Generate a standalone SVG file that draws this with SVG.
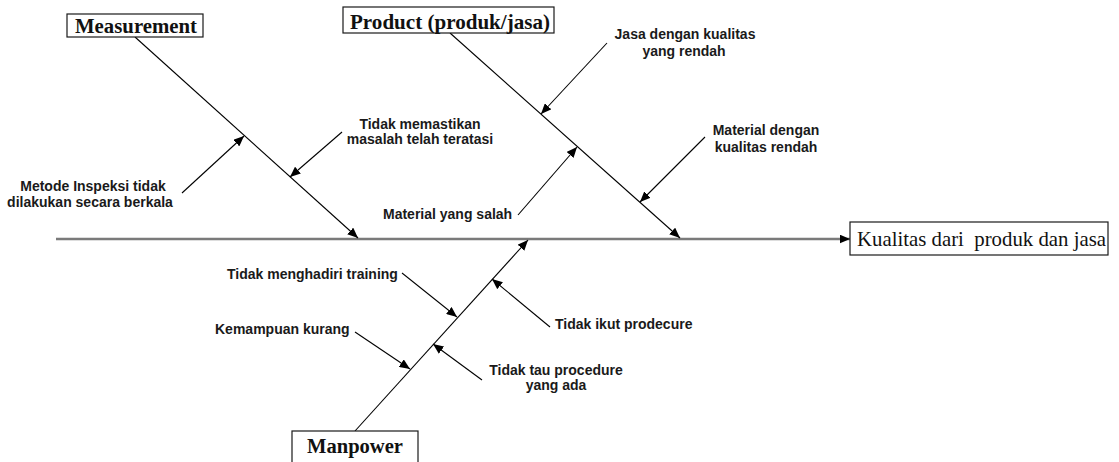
<svg xmlns="http://www.w3.org/2000/svg" width="1119" height="462" viewBox="0 0 1119 462">
  <style>
    .box { fill: #ffffff; stroke: #1a1a1a; stroke-width: 1.2; }
    .title { font-family: "Liberation Serif", "Times New Roman", serif; font-weight: bold; fill: #111; }
    .effect { font-family: "Liberation Serif", "Times New Roman", serif; font-size: 21px; fill: #111; white-space: pre; }
    .cause { font-family: "Liberation Sans", Arial, sans-serif; font-weight: bold; font-size: 14px; fill: #1a1a1a; }
    .bone { stroke: #000; stroke-width: 1.1; fill: none; marker-end: url(#head); }
    .spine { stroke: #7a7a7a; stroke-width: 2.4; fill: none; marker-end: url(#head); }
  </style>
  <defs>
    <marker id="head" markerUnits="userSpaceOnUse" markerWidth="11" markerHeight="9" refX="10.5" refY="4.5" orient="auto">
      <path d="M0,0 L10.5,4.5 L0,9 Z" fill="#000"/>
    </marker>
  </defs>
  <rect width="1119" height="462" fill="#ffffff"/>

  <!-- connectors: spine, category bones and cause arrows -->
  <g id="connectors">
    <line class="spine" x1="56" y1="239" x2="850" y2="239"/>
    <line class="bone" x1="135" y1="37" x2="358" y2="238"/>
    <line class="bone" x1="450" y1="33" x2="680" y2="238"/>
    <line class="bone" x1="355" y1="431" x2="528" y2="240"/>
    <line class="bone" x1="182" y1="193" x2="244" y2="136"/>
    <line class="bone" x1="342" y1="132" x2="290" y2="177"/>
    <line class="bone" x1="607" y1="43" x2="541" y2="114"/>
    <line class="bone" x1="705" y1="137" x2="640" y2="202"/>
    <line class="bone" x1="518" y1="215" x2="577" y2="147"/>
    <line class="bone" x1="402" y1="273" x2="457" y2="317"/>
    <line class="bone" x1="355" y1="332" x2="410" y2="369"/>
    <line class="bone" x1="550" y1="327" x2="492" y2="279"/>
    <line class="bone" x1="482" y1="380" x2="433" y2="344"/>
  </g>

  <!-- category boxes -->
  <g id="measurement">
    <rect class="box" x="67" y="14" width="136" height="23"/>
    <text class="title" x="75" y="33" font-size="20" textLength="122" lengthAdjust="spacingAndGlyphs">Measurement</text>
  </g>
  <g id="product">
    <rect class="box" x="343" y="7" width="211" height="26"/>
    <text class="title" x="350" y="29" font-size="21" textLength="200" lengthAdjust="spacingAndGlyphs">Product (produk/jasa)</text>
  </g>
  <g id="manpower">
    <rect class="box" x="292" y="431" width="126" height="40"/>
    <text class="title" x="307" y="453" font-size="20" textLength="96" lengthAdjust="spacingAndGlyphs">Manpower</text>
  </g>
  <g id="effect">
    <rect class="box" x="850" y="222" width="258" height="33"/>
    <text class="effect" x="857" y="246" textLength="249" lengthAdjust="spacingAndGlyphs">Kualitas dari  produk dan jasa</text>
  </g>

  <!-- causes -->
  <g id="cause-metode">
    <text class="cause" x="93" y="191" text-anchor="middle">Metode Inspeksi tidak</text>
    <text class="cause" x="90" y="207" text-anchor="middle">dilakukan secara berkala</text>
  </g>
  <g id="cause-memastikan">
    <text class="cause" x="420" y="129" text-anchor="middle">Tidak memastikan</text>
    <text class="cause" x="420" y="144" text-anchor="middle">masalah telah teratasi</text>
  </g>
  <g id="cause-jasa">
    <text class="cause" x="685" y="39" text-anchor="middle">Jasa dengan kualitas</text>
    <text class="cause" x="684" y="56" text-anchor="middle">yang rendah</text>
  </g>
  <g id="cause-material-rendah">
    <text class="cause" x="766" y="135" text-anchor="middle">Material dengan</text>
    <text class="cause" x="766" y="152" text-anchor="middle">kualitas rendah</text>
  </g>
  <g id="cause-material-salah">
    <text class="cause" x="383" y="219">Material yang salah</text>
  </g>
  <g id="cause-training">
    <text class="cause" x="227" y="279">Tidak menghadiri training</text>
  </g>
  <g id="cause-kemampuan">
    <text class="cause" x="215" y="334">Kemampuan kurang</text>
  </g>
  <g id="cause-ikut">
    <text class="cause" x="555" y="329">Tidak ikut prodecure</text>
  </g>
  <g id="cause-tau">
    <text class="cause" x="556" y="375" text-anchor="middle">Tidak tau procedure</text>
    <text class="cause" x="556" y="390" text-anchor="middle">yang ada</text>
  </g>
</svg>
